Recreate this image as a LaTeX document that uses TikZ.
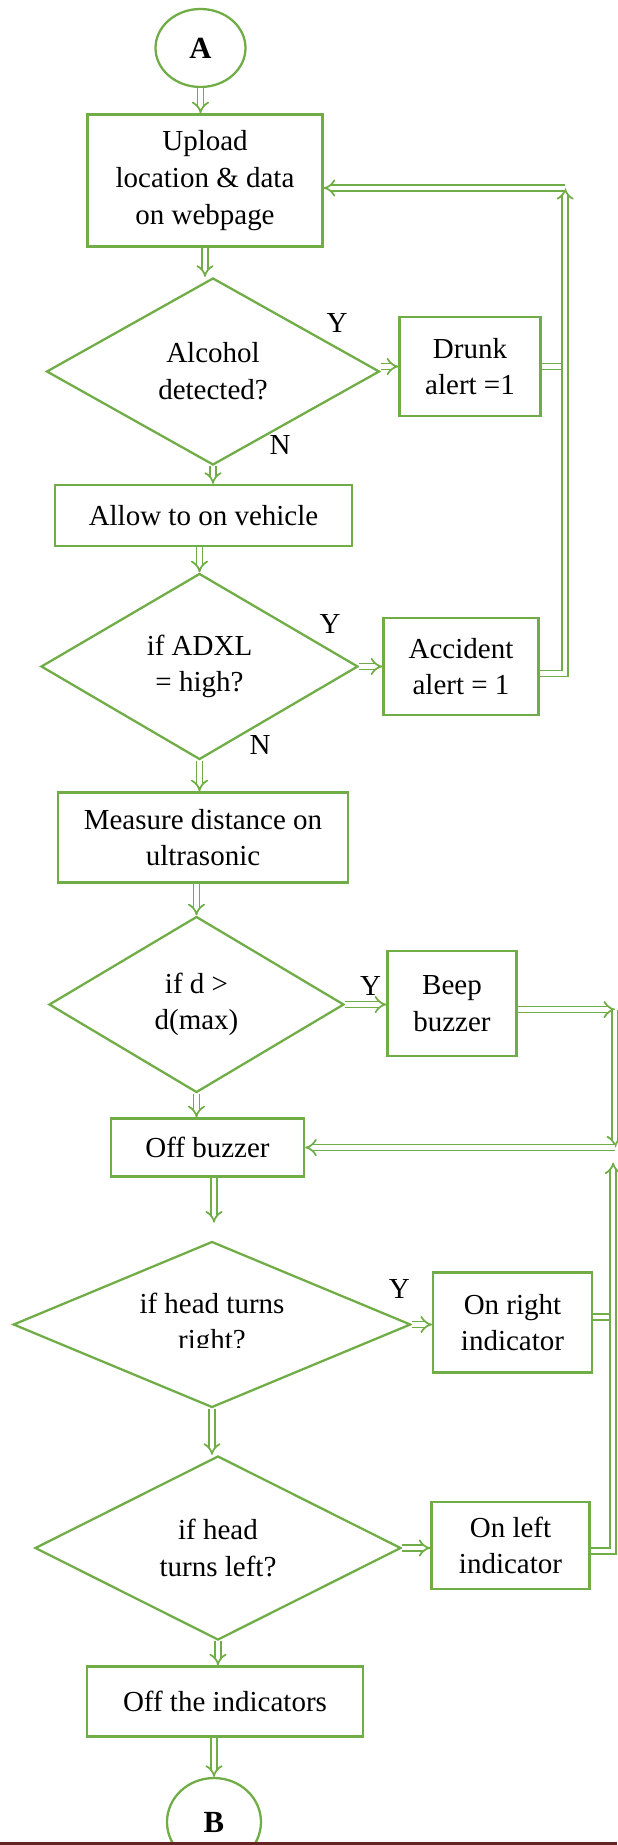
\documentclass[tikz,border=0pt]{standalone}
\usepackage{fontspec}
\setmainfont{Liberation Serif}
\usetikzlibrary{shapes.geometric,arrows.meta}
\definecolor{flowgreen}{HTML}{70AD47}
\definecolor{pagered}{HTML}{632423}

\begin{document}
\begin{tikzpicture}
    \tikzstyle{box} = [rectangle, draw=flowgreen, line width=1.3pt, fill=white, inner sep=0pt, align=center, font=\fontsize{16.5}{20.9}\selectfont]
    \tikzstyle{decision} = [diamond, aspect=2, draw=flowgreen, line width=1.3pt, fill=white, inner sep=0pt, align=center, font=\fontsize{16.5}{20.9}\selectfont]
    \tikzstyle{terminal} = [ellipse, draw=flowgreen, line width=1.3pt, fill=white, inner sep=0pt, font=\fontsize{17.5}{21}\selectfont\bfseries]
    \tikzstyle{yn} = [inner sep=0pt, font=\fontsize{16.5}{20.9}\selectfont]
    \tikzstyle{link} = [draw=flowgreen, double, double distance=2.3pt, line width=1pt]
    \tikzstyle{arrow} = [link, -{Implies}]

    \useasboundingbox (0,0) rectangle (12.34,-36.9);

    % Nodes
    \node (start) [terminal, minimum width=1.8cm, minimum height=1.56cm] at (4.01,-0.96) {A};
    \node (upload) [box, below of=start, node distance=2.65cm, xshift=0.09cm, minimum width=4.7cm, minimum height=2.64cm] {Upload\\location \& data\\on webpage};
    \node (alcohol) [decision, below of=upload, node distance=3.82cm, xshift=0.16cm, minimum width=6.66cm, minimum height=3.74cm] {Alcohol\\detected?};
    \node (drunk) [box, right of=alcohol, node distance=5.14cm, yshift=0.1cm, minimum width=2.82cm, minimum height=1.98cm] {Drunk\\alert =1};
    \node (allow) [box, below of=alcohol, node distance=2.88cm, xshift=-0.19cm, minimum width=5.94cm, minimum height=1.22cm] {Allow to on vehicle};
    \node (adxl) [decision, below of=allow, node distance=3.02cm, xshift=-0.08cm, minimum width=6.34cm, minimum height=3.72cm] {if ADXL\\= high?};
    \node (accident) [box, right of=adxl, node distance=5.23cm, minimum width=3.1cm, minimum height=1.94cm] {Accident\\alert = 1};
    \node (measure) [box, below of=adxl, node distance=3.42cm, xshift=0.07cm, minimum width=5.81cm, minimum height=1.8cm] {Measure distance on\\ultrasonic};
    \node (dist) [decision, below of=measure, node distance=3.34cm, xshift=-0.13cm, minimum width=5.9cm, minimum height=3.52cm] {if d >\\d(max)};
    \node (beep) [box, right of=dist, node distance=5.11cm, yshift=0.02cm, minimum width=2.58cm, minimum height=2.09cm] {Beep\\buzzer};
    \node (offbuzzer) [box, below of=dist, node distance=2.86cm, xshift=0.22cm, minimum width=3.86cm, minimum height=1.16cm] {Off buzzer};
    \node (headright) [decision, below of=offbuzzer, node distance=3.54cm, xshift=0.09cm, minimum width=7.95cm, minimum height=3.32cm] {if head turns\\right?};
    \node (onright) [box, right of=headright, node distance=6.01cm, yshift=0.04cm, minimum width=3.17cm, minimum height=2cm] {On right\\indicator};
    \node (headleft) [decision, below of=headright, node distance=4.47cm, xshift=0.12cm, minimum width=7.32cm, minimum height=3.68cm] {if head\\turns left?};
    \node (onleft) [box, right of=headleft, node distance=5.85cm, yshift=0.05cm, minimum width=3.16cm, minimum height=1.75cm] {On left\\indicator};
    \node (offind) [box, below of=headleft, node distance=3.07cm, xshift=0.14cm, minimum width=5.53cm, minimum height=1.4cm] {Off the indicators};
    \node (stop) [terminal, below of=offind, node distance=2.41cm, xshift=-0.22cm, minimum width=1.88cm, minimum height=1.76cm] {B};

    % text box of the decision cuts the second line
    \fill [white] ([xshift=-1.1cm,yshift=-0.47cm]headright.center) rectangle ([xshift=1.1cm,yshift=-0.9cm]headright.center);

    % Labels
    \node (y1) [yn] at ([shift={(-0.87,0.97)}]alcohol.east) {Y};
    \node (n1) [yn] at ([shift={(1.34,0.42)}]alcohol.south) {N};
    \node (y2) [yn] at ([shift={(-0.58,0.85)}]adxl.east) {Y};
    \node (n2) [yn] at ([shift={(1.21,0.31)}]adxl.south) {N};
    \node (y3) [yn] at ([shift={(0.51,0.37)}]dist.east) {Y};
    \node (y4) [yn] at ([shift={(-0.25,0.71)}]headright.east) {Y};

    % Arrows
    \draw [arrow] (start) -- (start |- upload.north);
    \draw [arrow] (upload) -- (upload |- alcohol.north);
    \draw [arrow] (alcohol) -- (alcohol |- allow.north);
    \draw [arrow] ([yshift=0.1cm]alcohol.east) -- ([yshift=0.1cm]alcohol.east -| drunk.west);
    \draw [arrow] (adxl |- allow.south) -- (adxl);
    \draw [arrow] (adxl.east) -- (adxl.east -| accident.west);
    \draw [arrow] (adxl) -- (adxl |- measure.north);
    \draw [arrow] (dist |- measure.south) -- (dist);
    \draw [arrow] (dist.east) -- (dist.east -| beep.west);
    \draw [arrow] (dist) -- (dist |- offbuzzer.north);
    \coordinate (gaptop) at ([xshift=0.13cm]offbuzzer.south);
    \coordinate (gap) at ([yshift=-0.9cm]gaptop);
    \draw [arrow] (gaptop) -- (gap);
    \draw [arrow] (headright) -- (headright |- headleft.north);
    \draw [arrow] (headright.east) -- (headright.east -| onright.west);
    \draw [arrow] (headleft.east) -- (headleft.east -| onleft.west);
    \draw [arrow] (headleft) -- (headleft |- offind.north);
    \draw [arrow] (stop |- offind.south) -- (stop);

    % Back to upload
    \coordinate (loopa) at ([xshift=0.51cm]accident.east);
    \coordinate (loopatop) at ([yshift=-0.15cm]loopa |- upload.east);
    \draw [link] (drunk.east) -- (drunk.east -| loopa);
    \draw [arrow] ([yshift=-0.14cm]accident.east) -| (loopatop);
    \draw [arrow] (loopatop) -- (loopatop -| upload.east);

    % Back to off buzzer
    \coordinate (loopb) at ([xshift=1.95cm]beep.east);
    \coordinate (beepout) at ([yshift=-0.12cm]beep.east);
    \coordinate (loopbtop) at (beepout -| loopb);
    \coordinate (loopbbot) at (loopb |- offbuzzer.east);
    \draw [arrow] (beepout) -- (loopbtop);
    \draw [arrow] (loopbtop) -- (loopbbot);
    \draw [arrow] (loopbbot) -- (offbuzzer.east);

    % Indicators line
    \coordinate (loopc) at ([xshift=-0.04cm,yshift=-0.3cm]loopbbot);
    \draw [link] ([yshift=0.11cm]onright.east) -- ([yshift=0.11cm]onright.east -| loopc);
    \draw [arrow] ([yshift=-0.11cm]onleft.east) -| (loopc);

    \fill [pagered] (0,-36.84) rectangle (12.34,-36.9);
\end{tikzpicture}
\end{document}
